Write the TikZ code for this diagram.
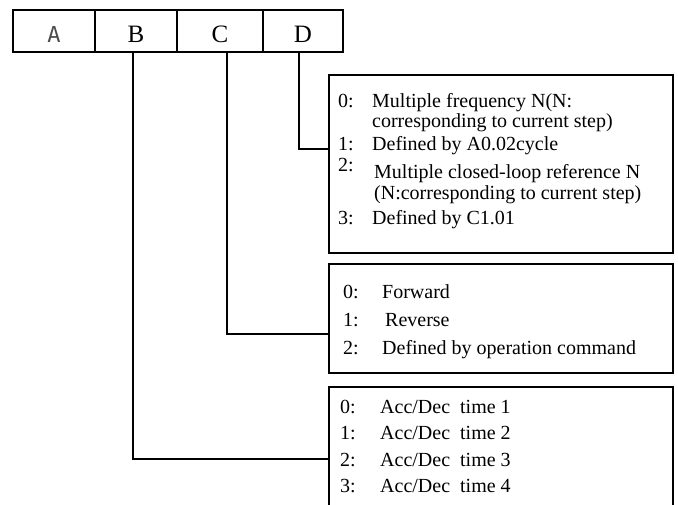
\documentclass[tikz,border=0pt]{standalone}
\usepackage{fontspec}
\setmainfont{Liberation Serif}
\newfontfamily\cellmono{DejaVu Sans Mono}
\usetikzlibrary{positioning}

\begin{document}
\begin{tikzpicture}[x=1pt, y=-1pt,
    cell/.style={rectangle, draw, line width=1.1pt, minimum height=42pt, inner sep=0pt, outer sep=0pt, text height=23pt, text depth=0pt, font=\fontsize{25}{25}\selectfont},
    optbox/.style={rectangle, draw, line width=1.1pt, minimum width=344pt, inner sep=0pt, outer sep=0pt},
    opt/.style={anchor=base west, inner sep=0pt, font=\fontsize{20}{22}\selectfont},
    line/.style={draw, line width=1.1pt}]
  \clip (0,0) rectangle (678,504);

  % parameter digits
  \node [cell, minimum width=82pt, text=black!70, font=\cellmono\fontsize{22}{22}\selectfont] (cellA) at (54,31) {A};
  \node [cell, minimum width=82pt, right=0pt of cellA] (cellB) {B};
  \node [cell, minimum width=86pt, right=0pt of cellB] (cellC) {C};
  \node [cell, minimum width=80pt, right=0pt of cellC] (cellD) {D};

  % option boxes
  \node [optbox, minimum height=178pt] (boxD) at (501,164) {};
  \node [optbox, minimum height=109pt] (boxC) at (501,318.5) {};
  \node [optbox, minimum height=140pt] (boxB) at (501,457) {};

  % D options
  \node [opt] (numD0) at (338,107) {0:};
  \node [opt] (optD0) at (372,107) {Multiple frequency N(N:};
  \node [opt] (optD0b) at (372,127) {corresponding to current step)};
  \node [opt] (numD1) at (338,150) {1:};
  \node [opt] (optD1) at (372,150) {Defined by A0.02cycle};
  \node [opt] (numD2) at (338,171) {2:};
  \node [opt] (optD2) at (374,178) {Multiple closed-loop reference N};
  \node [opt] (optD2b) at (374,199) {(N:corresponding to current step)};
  \node [opt] (numD3) at (338,224) {3:};
  \node [opt] (optD3) at (372,224) {Defined by C1.01};

  % C options
  \node [opt] (numC0) at (343,298) {0:};
  \node [opt] (optC0) at (382,298) {Forward};
  \node [opt] (numC1) at (343,326) {1:};
  \node [opt] (optC1) at (385,326) {Reverse};
  \node [opt] (numC2) at (343,354) {2:};
  \node [opt] (optC2) at (382,354) {Defined by operation command};

  % B options
  \node [opt] (numB0) at (340,413) {0:};
  \node [opt] (optB0) at (380,413) {Acc/Dec~ time 1};
  \node [opt] (numB1) at (340,439) {1:};
  \node [opt] (optB1) at (380,439) {Acc/Dec~ time 2};
  \node [opt] (numB2) at (340,466) {2:};
  \node [opt] (optB2) at (380,466) {Acc/Dec~ time 3};
  \node [opt] (numB3) at (340,492) {3:};
  \node [opt] (optB3) at (380,492) {Acc/Dec~ time 4};

  \coordinate (jD) at (boxD.west |- 0,149);
  \coordinate (jC) at (boxC.west |- 0,334);
  \coordinate (jB) at (boxB.west |- 0,459);

  \path [line] ([xshift=-4pt]cellD.south) |- (jD);
  \path [line] ([xshift=7pt]cellC.south) |- (jC);
  \path [line] ([xshift=-3pt]cellB.south) |- (jB);
\end{tikzpicture}
\end{document}
